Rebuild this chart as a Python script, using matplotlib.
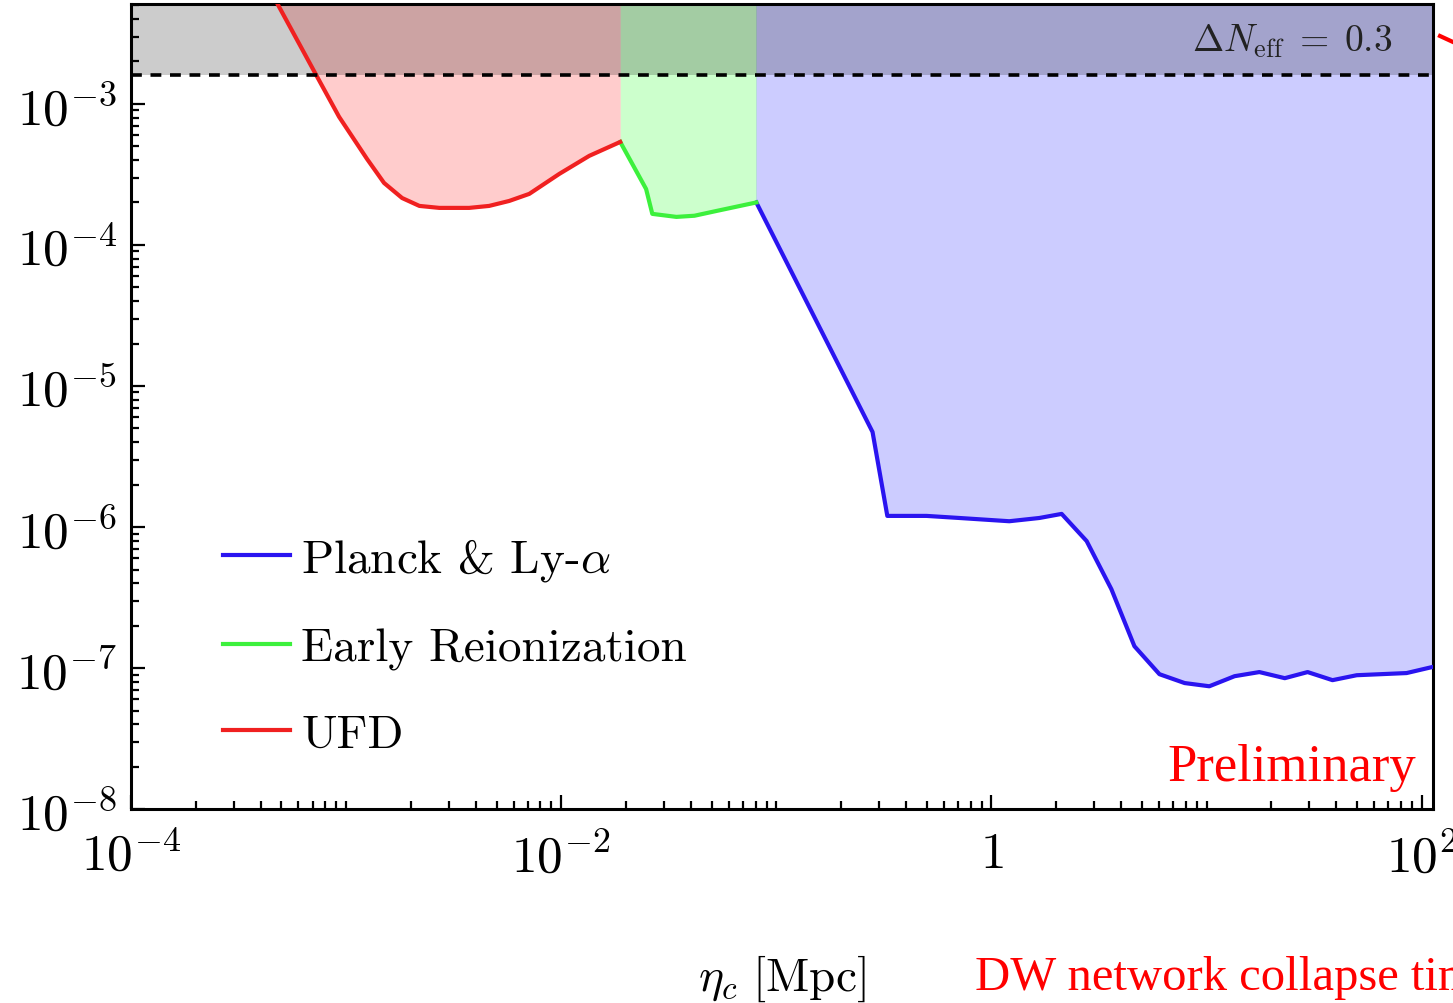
import numpy as np
import matplotlib
matplotlib.use("Agg")
import matplotlib.pyplot as plt
from matplotlib.lines import Line2D
from matplotlib.ticker import LogLocator, NullFormatter

plt.rcParams['font.family'] = 'serif'
plt.rcParams['font.serif'] = ['cmr10']
plt.rcParams['mathtext.fontset'] = 'cm'
plt.rcParams['axes.unicode_minus'] = False
plt.rcParams['axes.formatter.use_mathtext'] = True

# UFD bound (red)
ufd_eta = [4.4e-4, 7.24e-4, 9.27e-4, 1.25e-3, 1.50e-3, 1.82e-3, 2.19e-3, 2.71e-3,
           3.73e-3, 4.62e-3, 5.73e-3, 7.10e-3, 9.8e-3, 1.35e-2, 1.88e-2]
ufd_y = [6.5e-3, 1.61e-3, 8.09e-4, 4.07e-4, 2.75e-4, 2.15e-4, 1.89e-4, 1.83e-4,
         1.83e-4, 1.89e-4, 2.05e-4, 2.30e-4, 3.19e-4, 4.28e-4, 5.37e-4]

# Early reionization bound (green)
reio_eta = [1.88e-2, 2.48e-2, 2.65e-2, 3.43e-2, 4.16e-2, 5.26e-2, 8.07e-2]
reio_y = [5.37e-4, 2.49e-4, 1.66e-4, 1.58e-4, 1.61e-4, 1.74e-4, 2.0e-4]

# Planck & Ly-alpha bound (blue)
planck_eta = [8.07e-2, 0.280, 0.328, 0.499, 0.709, 1.21, 1.67, 2.12, 2.77, 3.61,
              4.62, 6.04, 7.91, 10.3, 13.5, 17.6, 23.1, 29.5, 38.5, 49.9, 85.1, 112.5]
planck_y = [2.0e-4, 4.72e-6, 1.20e-6, 1.20e-6, 1.16e-6, 1.10e-6, 1.16e-6, 1.24e-6,
            7.96e-7, 3.63e-7, 1.43e-7, 9.06e-8, 7.84e-8, 7.44e-8, 8.77e-8, 9.38e-8,
            8.49e-8, 9.38e-8, 8.22e-8, 8.91e-8, 9.23e-8, 1.02e-7]

neff_level = 1.6e-3
x_range = (1e-4, 1.125e2)
y_range = (1e-8, 5.1e-3)

fig = plt.figure(figsize=(14.53, 10.04), dpi=100)
ax = fig.add_axes([0.0902, 0.193, 0.8958, 0.802])
ax.set_xscale('log')
ax.set_yscale('log')
ax.set_xlim(*x_range)
ax.set_ylim(*y_range)

top = 1.0
ax.fill_between(ufd_eta, ufd_y, top, color='#ff0000', alpha=0.2, lw=0, zorder=1)
ax.fill_between(reio_eta, reio_y, top, color='#00ff00', alpha=0.2, lw=0, zorder=1)
ax.fill_between(planck_eta, planck_y, top, color='#0000ff', alpha=0.2, lw=0, zorder=1)

# Delta N_eff exclusion
ax.axhspan(neff_level, top, color='black', alpha=0.2, lw=0, zorder=2)
ax.axhline(neff_level, color='black', lw=2.6, dashes=(3.0, 2.4), zorder=4)

ax.plot(planck_eta, planck_y, color='#2a14f0', lw=3, label=r'Planck & Ly-$\alpha$', zorder=3)
ax.plot(reio_eta, reio_y, color='#3cf03c', lw=3, label='Early Reionization', zorder=3)
ax.plot(ufd_eta, ufd_y, color='#f02020', lw=3, label='UFD', zorder=3)

ax.text(0.969, 0.955, r'$\Delta N_{\rm eff}\;=\;0.3$', transform=ax.transAxes,
        ha='right', va='center', fontsize=27, color='#222222')
ax.text(0.987, 0.036, 'Preliminary', transform=ax.transAxes, ha='right',
        va='baseline', fontsize=38, color='red', family='Liberation Serif')

ax.legend(loc='upper left', bbox_to_anchor=(0.071, 0.339), frameon=False,
          fontsize=34, handlelength=1.4, handletextpad=0.25, labelspacing=0.93,
          borderpad=0, borderaxespad=0)

ax.xaxis.set_minor_locator(LogLocator(base=10, subs=np.arange(1, 10)))
ax.xaxis.set_minor_formatter(NullFormatter())
ax.yaxis.set_minor_locator(LogLocator(base=10, subs=np.arange(2, 10)))
ax.yaxis.set_minor_formatter(NullFormatter())
ax.set_xticks([1e-4, 1e-2, 1, 1e2])
ax.set_xticklabels([r'$10^{-4}$', r'$10^{-2}$', r'$1$', r'$10^{2}$'])
ax.set_yticks([1e-8, 1e-7, 1e-6, 1e-5, 1e-4, 1e-3])
ax.set_yticklabels([r'$10^{-8}$', r'$10^{-7}$', r'$10^{-6}$', r'$10^{-5}$',
                    r'$10^{-4}$', r'$10^{-3}$'])
ax.tick_params(which='both', direction='in', top=False, right=False, width=1.6)
ax.tick_params(which='major', length=10, labelsize=37)
ax.tick_params(axis='x', which='major', pad=16)
ax.tick_params(axis='y', which='major', pad=10)
ax.tick_params(which='minor', length=6)
for s in ax.spines.values():
    s.set_linewidth(2.2)

ax.set_xlabel(r'$\eta_c\ [\mathrm{Mpc}]$', fontsize=34, labelpad=52)
fig.text(975 / 1453, 1 - 990 / 1004, 'DW network collapse time', fontsize=35,
         color='red', family='Liberation Serif', ha='left', va='baseline')
fig.add_artist(Line2D([1440 / 1453, 1.0], [1 - 37 / 1004, 1 - 43 / 1004],
                      transform=fig.transFigure, color='red', lw=3))

fig.savefig('out.png', dpi=100)
